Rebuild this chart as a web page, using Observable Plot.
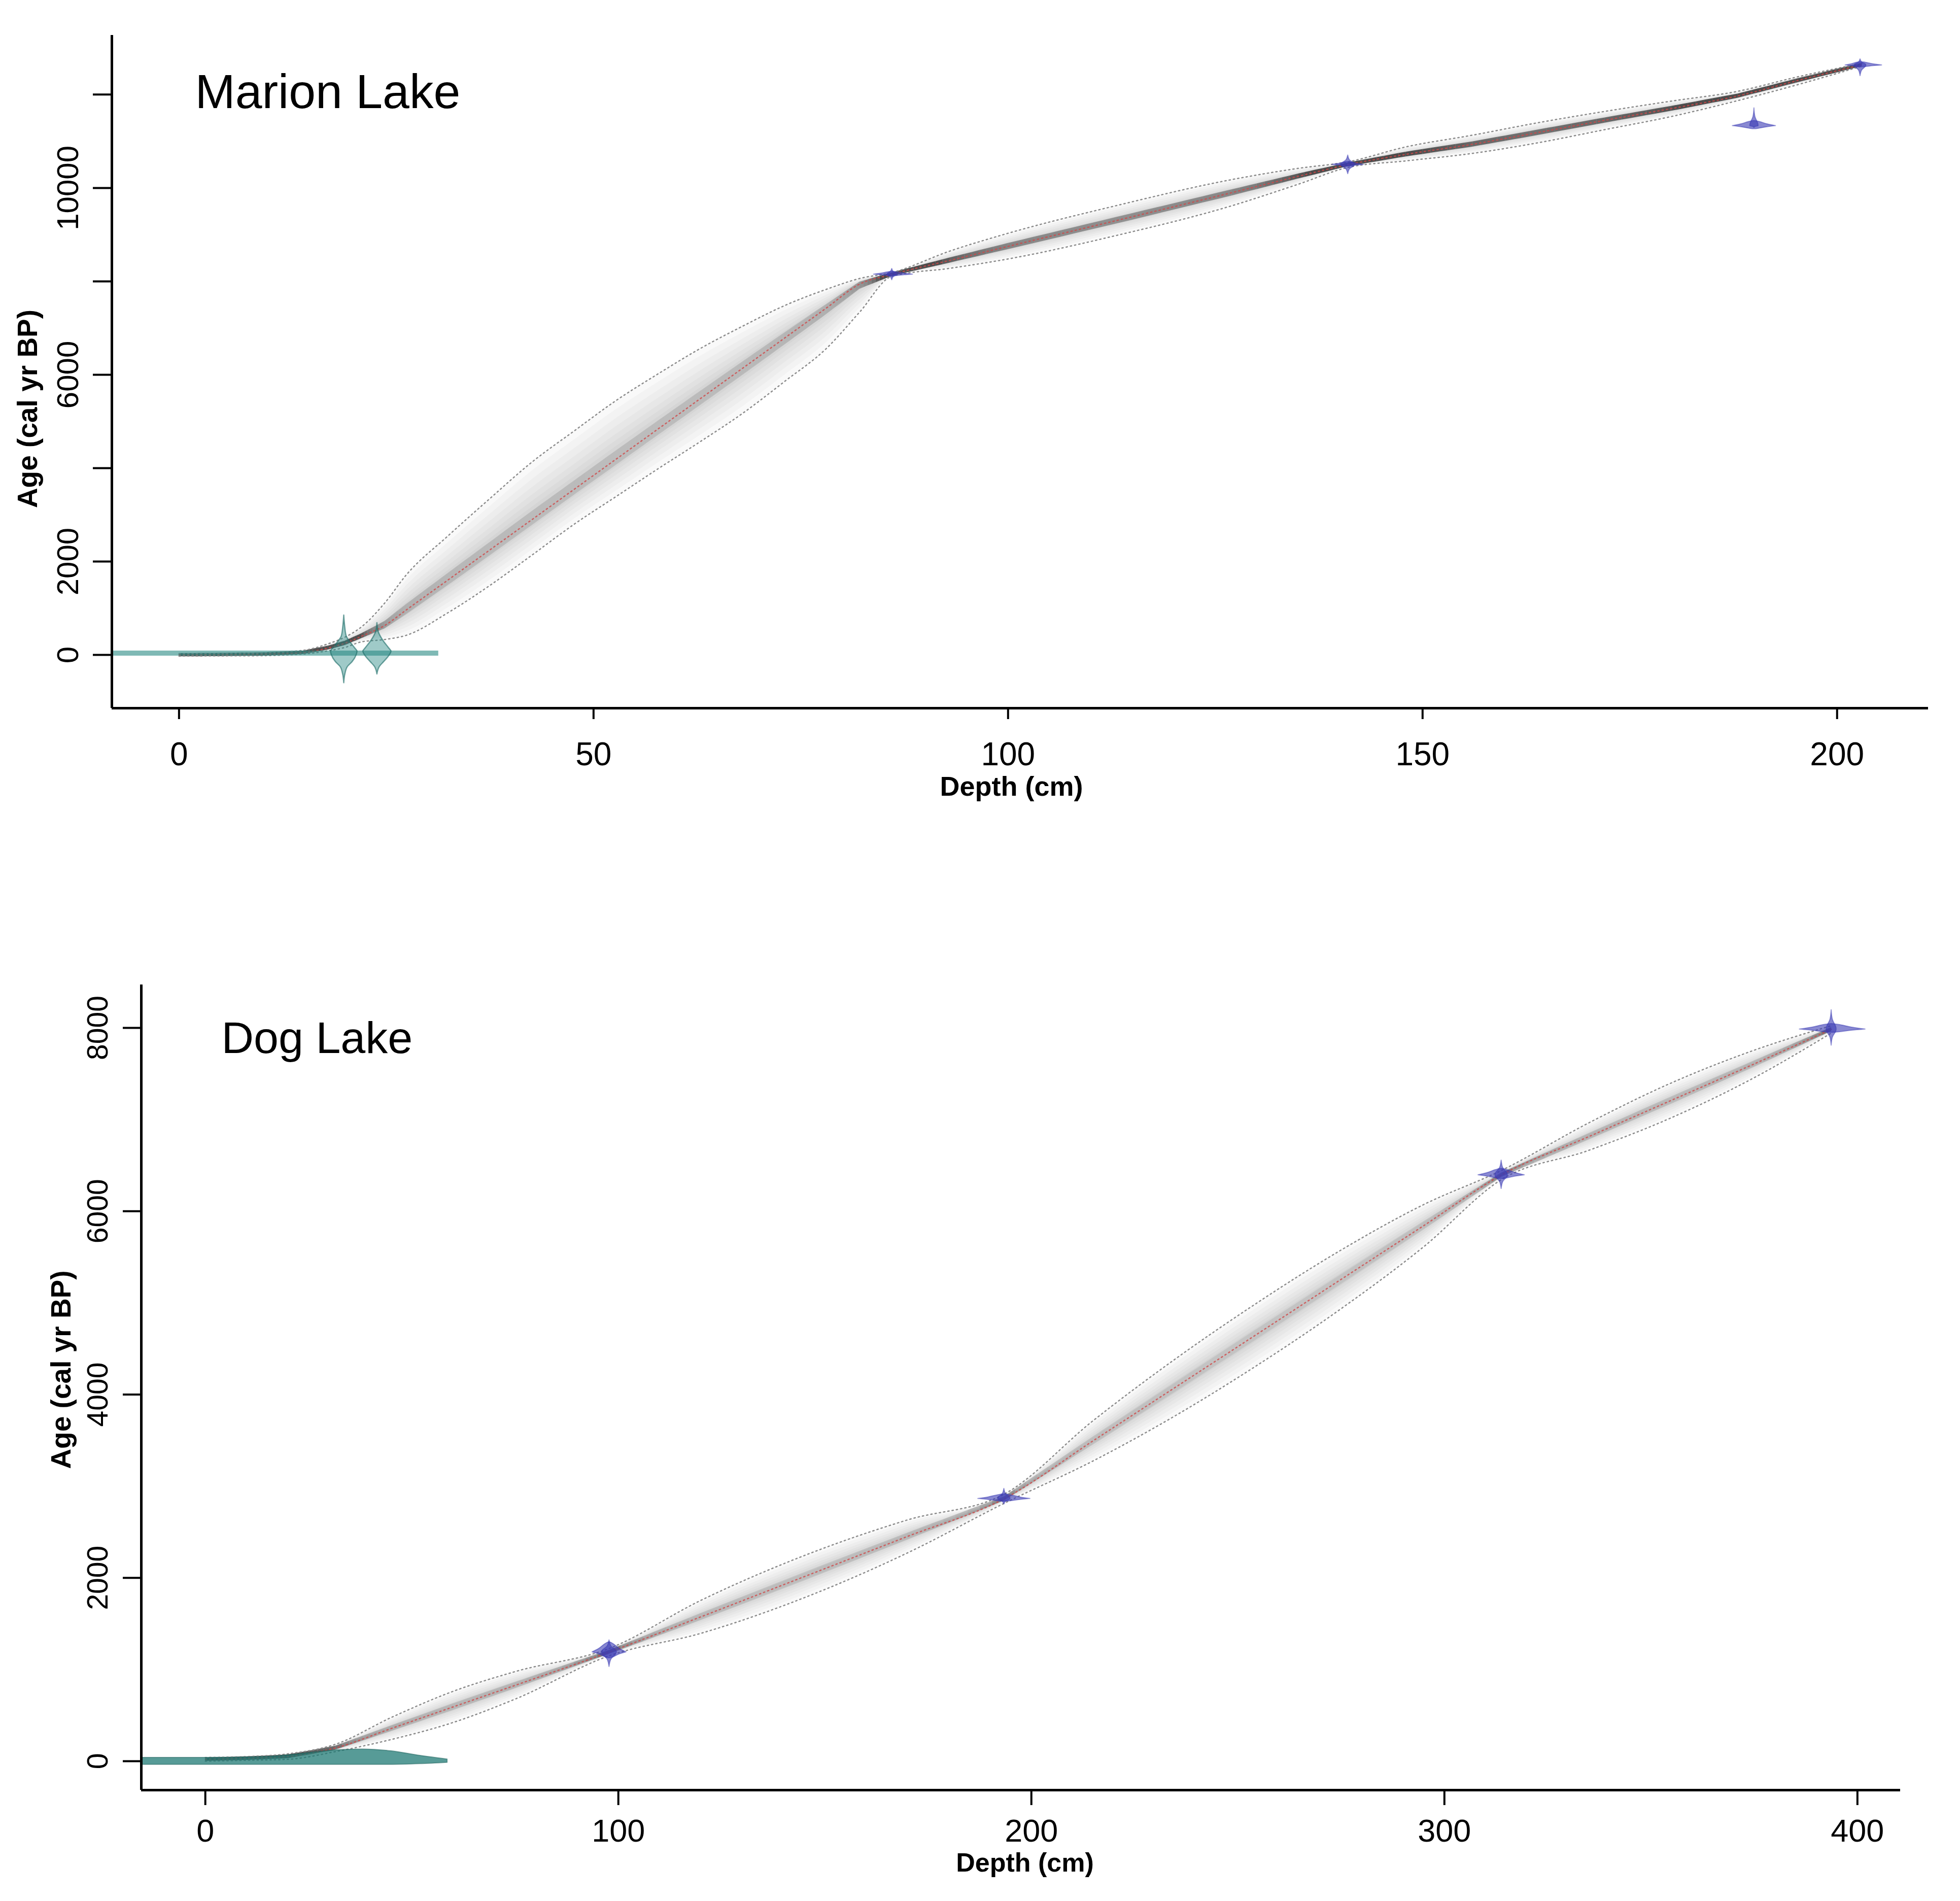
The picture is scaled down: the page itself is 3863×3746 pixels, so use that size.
<!DOCTYPE html>
<html>
<head>
<meta charset="utf-8">
<script src="https://cdn.jsdelivr.net/npm/d3@7"></script>
<script src="https://cdn.jsdelivr.net/npm/@observablehq/plot@0.6"></script>
<style>
  html, body { margin: 0; padding: 0; background: white; }
  #chart svg { display: block; }
</style>
</head>
<body>
<div id="chart"></div>
<script>
// ---------------- Marion Lake ----------------
const marionTitle = "Marion Lake";
const marionDepth = [0, 5, 10, 15, 18, 20, 22, 24.8, 27.4, 32.4, 37.5, 42.5, 47.7, 52.7, 57.8, 62.9, 68, 73, 78.1, 82.1, 86, 93, 100, 113, 127, 135, 141, 148, 156, 164, 172, 180, 188, 195, 203];
const marionMean  = [0, 5, 15, 50, 150, 250, 400, 630, 962, 1600, 2250, 2889, 3552, 4190, 4841, 5491, 6142, 6780, 7431, 7942, 8150, 8450, 8750, 9300, 9900, 10250, 10500, 10720, 10935, 11190, 11450, 11700, 11970, 12290, 12640];
const marionUpper = [25, 30, 45, 100, 240, 380, 600, 1110, 1712, 2543, 3350, 4120, 4802, 5446, 6021, 6565, 7042, 7478, 7831, 8062, 8190, 8650, 9030, 9620, 10180, 10420, 10560, 10880, 11130, 11400, 11640, 11860, 12070, 12370, 12670];
const marionLower = [-25, -20, -15, 20, 90, 160, 280, 330, 420, 900, 1489, 2129, 2804, 3390, 3989, 4571, 5176, 5850, 6565, 7342, 8110, 8280, 8480, 8980, 9620, 10080, 10440, 10580, 10740, 10970, 11250, 11530, 11870, 12200, 12610];
const marionXTicks = [0, 50, 100, 150, 200];
const marionYTicks = [0, 2000, 4000, 6000, 8000, 10000, 12000];
const marionYLabels = [0, 2000, 6000, 10000];
// 210Pb-type (teal) dates: surface line and two spikes
const marionTealLineDepth = [-8.1, 31.3];
const marionTealLineLo = [-21, -21];
const marionTealLineHi = [87, 87];
const marionSpike1Depth = 19.9;
const marionSpike1Age = [850, 600, 400, 300, 150, 76, 0, -150, -250, -400, -600];
const marionSpike1HalfWidth = [0, 0.12, 0.3, 0.65, 1.3, 1.6, 1.5, 1.0, 0.45, 0.15, 0];
const marionSpike2Depth = 23.9;
const marionSpike2Age = [685, 500, 300, 150, 76, 0, -150, -250, -413];
const marionSpike2HalfWidth = [0, 0.15, 0.75, 1.4, 1.7, 1.5, 0.8, 0.3, 0];
// 14C (blue) dates
const marionDateDepth = [86, 141, 190, 202.8];
const marionDateAge   = [8150, 10500, 11330, 12630];
const marionDateLeft  = [2.2, 1.9, 2.6, 1.8];   // cm
const marionDateRight = [2.5, 1.9, 2.6, 2.6];   // cm
const marionDateThick = [60, 60, 110, 70];      // yr
const marionDateUp    = [120, 200, 380, 130];   // yr
const marionDateDown  = [120, 200, 40, 230];    // yr
const marionDateSpikeW = [0.6, 0.8, 0.5, 0.7];  // cm

// ---------------- Dog Lake ----------------
const dogTitle = "Dog Lake";
const dogDepth = [0, 10, 20, 31.5, 45, 60, 75, 97.8, 120, 145, 170, 193.4, 215, 235, 253, 275, 295, 313.8, 335, 355, 375, 393.7];
const dogMean  = [20, 30, 50, 144, 356, 592, 827, 1190, 1575, 2013, 2452, 2863, 3497, 4083, 4611, 5257, 5843, 6395, 6815, 7211, 7607, 7985];
const dogUpper = [40, 50, 80, 184, 476, 762, 977, 1230, 1755, 2243, 2632, 2913, 3717, 4393, 4951, 5577, 6073, 6445, 6965, 7401, 7757, 8025];
const dogLower = [0, 10, 20, 104, 236, 422, 677, 1150, 1395, 1783, 2272, 2813, 3277, 3773, 4271, 4937, 5613, 6345, 6665, 7021, 7457, 7945];
const dogXTicks = [0, 100, 200, 300, 400];
const dogYTicks = [0, 2000, 4000, 6000, 8000];
const dogYLabels = [0, 2000, 4000, 6000, 8000];
const dogTealDepth = [-15.5, 0, 15, 22, 30, 38, 45, 52, 58.6];
const dogTealHi = [38, 38, 50, 75, 115, 130, 110, 60, 20];
const dogTealLo = [-38, -38, -38, -38, -38, -38, -38, -30, -15];
const dogDateDepth = [97.8, 193.4, 313.8, 393.7];
const dogDateAge   = [1190, 2863, 6395, 7985];
const dogDateLeft  = [4.1, 6.3, 5.6, 7.7];
const dogDateRight = [4.1, 6.3, 5.6, 8.2];
const dogDateThick = [110, 50, 70, 60];
const dogDateUp    = [130, 110, 160, 210];
const dogDateDown  = [160, 60, 150, 175];
const dogDateSpikeW = [1.8, 1.5, 1.5, 1.2];

const axisLabelX = "Depth (cm)";
const axisLabelY = "Age (cal yr BP)";

// shape templates for the date symbols
const lensProfile = [[-1, 0], [-0.6, 0.35], [-0.25, 0.8], [0, 1], [0.25, 0.8], [0.6, 0.35], [1, 0]];
const spikeProfile = [[-1, 0], [-0.5, 0.25], [-0.15, 0.9], [0, 1], [0.15, 0.9], [0.5, 0.25], [1, 0]];
const bandFractions = [1, 0.85, 0.7, 0.56, 0.43, 0.32, 0.22, 0.14];

const FONT = "'Liberation Sans', Arial, Helvetica, sans-serif";

function modelRows(depth, mean, lo, hi) {
  return depth.map((d, i) => ({depth: d, mean: mean[i], lo: lo[i], hi: hi[i]}));
}

function dateMarks(depth, age, left, right, thick, up, down, spikeW, color) {
  const marks = [];
  depth.forEach((d, i) => {
    const wing = lensProfile.map(([u, w]) => ({
      depth: d + (u < 0 ? u * left[i] : u * right[i]),
      lo: age[i] - w * thick[i] * 0.6,
      hi: age[i] + w * thick[i]
    }));
    const spike = spikeProfile.map(([u, w]) => ({
      age: age[i] + (u < 0 ? u * down[i] : u * up[i]),
      x1: d - w * spikeW[i],
      x2: d + w * spikeW[i]
    }));
    marks.push(Plot.areaY(wing, {x: "depth", y1: "lo", y2: "hi", fill: color, fillOpacity: 0.6, stroke: color, strokeOpacity: 0.5, strokeWidth: 2, curve: "catmull-rom"}));
    marks.push(Plot.areaX(spike, {y: "age", x1: "x1", x2: "x2", fill: color, fillOpacity: 0.6, stroke: color, strokeOpacity: 0.5, strokeWidth: 2, curve: "catmull-rom"}));
  });
  return marks;
}

// yrPerPx: years per pixel; the darkness of the core follows the local width of the envelope
function modelMarks(rows, yrPerPx, darkness) {
  const m = [];
  for (const f of bandFractions) {
    m.push(Plot.areaY(rows, {x: "depth", y1: r => r.mean + f * (r.lo - r.mean), y2: r => r.mean + f * (r.hi - r.mean), fill: "#000", fillOpacity: 0.024, curve: "monotone-x"}));
  }
  const core = [];
  const SUB = 8;
  let seg = 0;
  for (let i = 0; i < rows.length - 1; i++) {
    const a = rows[i], b = rows[i + 1];
    for (let k = 0; k < SUB; k++) {
      const pts = [k / SUB, (k + 1) / SUB].map(t => ({
        depth: a.depth + t * (b.depth - a.depth),
        mean: a.mean + t * (b.mean - a.mean),
        lo: a.lo + t * (b.lo - a.lo),
        hi: a.hi + t * (b.hi - a.hi)
      }));
      const tm = (k + 0.5) / SUB;
      const hwPx = ((a.hi - a.lo) + tm * ((b.hi - b.lo) - (a.hi - a.lo))) / 2 / yrPerPx;
      const op = Math.max(0.03, Math.min(0.7, darkness / Math.max(hwPx, 1)));
      for (const r of pts) {
        core.push({seg, op, depth: r.depth,
          lo: r.mean + 0.12 * (r.lo - r.mean) - 3 * yrPerPx,
          hi: r.mean + 0.12 * (r.hi - r.mean) + 3 * yrPerPx});
      }
      seg++;
    }
  }
  m.push(Plot.areaY(core, {x: "depth", y1: "lo", y2: "hi", z: "seg", fill: "#111", fillOpacity: "op"}));
  m.push(Plot.line(rows, {x: "depth", y: "hi", stroke: "#8c8c8c", strokeWidth: 2.5, strokeDasharray: "2.5,6", curve: "monotone-x"}));
  m.push(Plot.line(rows, {x: "depth", y: "lo", stroke: "#8c8c8c", strokeWidth: 2.5, strokeDasharray: "2.5,6", curve: "monotone-x"}));
  m.push(Plot.line(rows, {x: "depth", y: "mean", stroke: "#d04848", strokeOpacity: 0.8, strokeWidth: 2.5, strokeDasharray: "2.5,6", curve: "monotone-x"}));
  return m;
}

// ---------- top panel ----------
const mXDomain = [-8.1, 211.0];
const mYDomain = [-1140, 13270];
const marionRows = modelRows(marionDepth, marionMean, marionLower, marionUpper);
const tealLine = marionTealLineDepth.map((d, i) => ({depth: d, lo: marionTealLineLo[i], hi: marionTealLineHi[i]}));
const spike1 = marionSpike1Age.map((a, i) => ({age: a, x1: marionSpike1Depth - marionSpike1HalfWidth[i], x2: marionSpike1Depth + marionSpike1HalfWidth[i]}));
const spike2 = marionSpike2Age.map((a, i) => ({age: a, x1: marionSpike2Depth - marionSpike2HalfWidth[i], x2: marionSpike2Depth + marionSpike2HalfWidth[i]}));
const TEAL = "#2a8a84";
const BLUE = "#3a3ab4";

const topPlot = Plot.plot({
  width: 3863, height: 1600,
  marginTop: 69, marginBottom: 205, marginLeft: 220, marginRight: 63,
  x: {domain: mXDomain, label: null},
  y: {domain: mYDomain, label: null},
  style: {fontFamily: FONT, background: "white", color: "black"},
  marks: [
    ...modelMarks(marionRows, (mYDomain[1] - mYDomain[0]) / (1600 - 69 - 205), 10),
    Plot.areaY(tealLine, {x: "depth", y1: "lo", y2: "hi", fill: TEAL, fillOpacity: 0.6}),
    Plot.areaX(spike1, {y: "age", x1: "x1", x2: "x2", fill: TEAL, fillOpacity: 0.45, stroke: "#1a6a66", strokeOpacity: 0.6, strokeWidth: 2.5, curve: "monotone-y"}),
    Plot.areaX(spike2, {y: "age", x1: "x1", x2: "x2", fill: TEAL, fillOpacity: 0.45, stroke: "#1a6a66", strokeOpacity: 0.6, strokeWidth: 2.5, curve: "monotone-y"}),
    ...dateMarks(marionDateDepth, marionDateAge, marionDateLeft, marionDateRight, marionDateThick, marionDateUp, marionDateDown, marionDateSpikeW, BLUE),
    Plot.axisX(marionXTicks, {anchor: "bottom", tickSize: 22, tickPadding: 45, fontSize: 64, strokeWidth: 4, label: null, tickFormat: d => String(d)}),
    Plot.axisY(marionYTicks, {anchor: "left", tickSize: 37, tickPadding: 30, tickRotate: -90, fontSize: 60, strokeWidth: 4, label: null, tickFormat: d => marionYLabels.includes(d) ? String(d) : ""}),
    Plot.ruleX([mXDomain[0]], {strokeWidth: 5}),
    Plot.ruleY([mYDomain[0]], {strokeWidth: 5}),
    Plot.text([marionTitle], {text: d => d, frameAnchor: "top-left", dx: 164, dy: 143, lineAnchor: "bottom", textAnchor: "start", fontSize: 95}),
    Plot.text([axisLabelY], {text: d => d, frameAnchor: "left", rotate: -90, dx: -165, dy: 73, textAnchor: "middle", lineAnchor: "middle", fontSize: 55, fontWeight: "bold"}),
    Plot.text([axisLabelX], {text: d => d, frameAnchor: "bottom", dx: -17, dy: 155, textAnchor: "middle", lineAnchor: "middle", fontSize: 54, fontWeight: "bold"})
  ]
});

// ---------- bottom panel ----------
const dXDomain = [-15.5, 410.4];
const dYDomain = [-316, 8471];
const dogRows = modelRows(dogDepth, dogMean, dogLower, dogUpper);
const dogTeal = dogTealDepth.map((d, i) => ({depth: d, lo: dogTealLo[i], hi: dogTealHi[i]}));

const bottomPlot = Plot.plot({
  width: 3863, height: 2146,
  marginTop: 340, marginBottom: 219, marginLeft: 278, marginRight: 118,
  x: {domain: dXDomain, label: null},
  y: {domain: dYDomain, label: null},
  style: {fontFamily: FONT, background: "white", color: "black"},
  marks: [
    ...modelMarks(dogRows, (dYDomain[1] - dYDomain[0]) / (2146 - 340 - 219), 4),
    Plot.areaY(dogTeal, {x: "depth", y1: "lo", y2: "hi", fill: "#1f7a74", fillOpacity: 0.75, stroke: "#1a5f5a", strokeOpacity: 0.5, strokeWidth: 2, curve: "monotone-x"}),
    ...dateMarks(dogDateDepth, dogDateAge, dogDateLeft, dogDateRight, dogDateThick, dogDateUp, dogDateDown, dogDateSpikeW, BLUE),
    Plot.axisX(dogXTicks, {anchor: "bottom", tickSize: 30, tickPadding: 27, fontSize: 63, strokeWidth: 4, label: null, tickFormat: d => String(d)}),
    Plot.axisY(dogYTicks, {anchor: "left", tickSize: 36, tickPadding: 31, tickRotate: -90, fontSize: 57, strokeWidth: 4, label: null, tickFormat: d => dogYLabels.includes(d) ? String(d) : ""}),
    Plot.ruleX([dXDomain[0]], {strokeWidth: 5}),
    Plot.ruleY([dYDomain[0]], {strokeWidth: 5}),
    Plot.text([dogTitle], {text: d => d, frameAnchor: "top-left", dx: 158, dy: 134, lineAnchor: "bottom", textAnchor: "start", fontSize: 88}),
    Plot.text([axisLabelY], {text: d => d, frameAnchor: "left", rotate: -90, dx: -157, dy: -35, textAnchor: "middle", lineAnchor: "middle", fontSize: 55, fontWeight: "bold"}),
    Plot.text([axisLabelX], {text: d => d, frameAnchor: "bottom", dx: 8, dy: 144, textAnchor: "middle", lineAnchor: "middle", fontSize: 52, fontWeight: "bold"})
  ]
});

const chart = document.getElementById("chart");
chart.appendChild(topPlot);
chart.appendChild(bottomPlot);
</script>
</body>
</html>
